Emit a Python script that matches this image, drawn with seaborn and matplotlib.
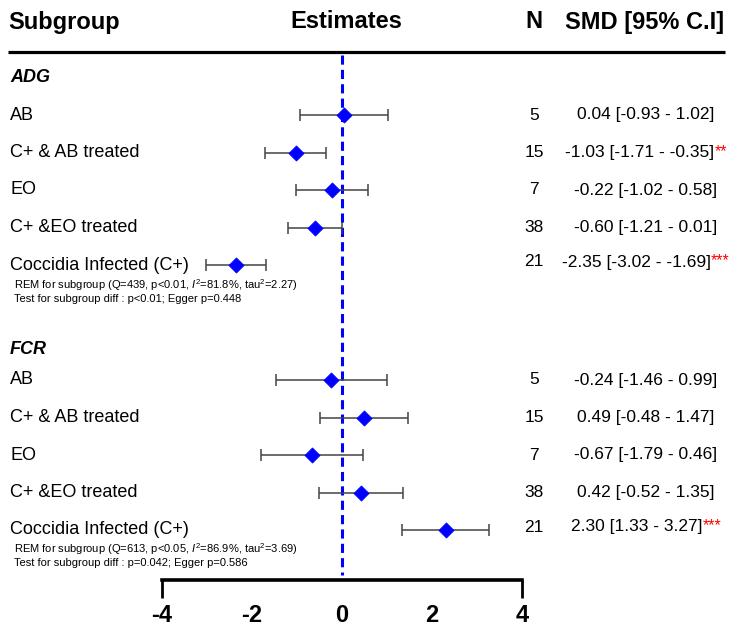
import matplotlib
matplotlib.use("Agg")
import matplotlib.pyplot as plt
import seaborn as sns
import pandas as pd
import numpy as np

# ---------------- data ----------------
groups = ["AB", "C+ & AB treated", "EO", "C+ &EO treated", "Coccidia Infected (C+)"]
n_studies = [5, 15, 7, 38, 21]

adg_smd = [0.04, -1.03, -0.22, -0.60, -2.35]
adg_lo = [-0.93, -1.71, -1.02, -1.21, -3.02]
adg_hi = [1.02, -0.35, 0.58, 0.01, -1.69]
adg_sig = ["", "**", "", "", "***"]

fcr_smd = [-0.24, 0.49, -0.67, 0.42, 2.30]
fcr_lo = [-1.46, -0.48, -1.79, -0.52, 1.33]
fcr_hi = [0.99, 1.47, 0.46, 1.35, 3.27]
fcr_sig = ["", "", "", "", "***"]

sections = ["ADG", "FCR"]
adg_notes = [r"REM for subgroup (Q=439, p<0.01, $\mathit{I}^2$=81.8%, tau$^2$=2.27)",
             "Test for subgroup diff : p<0.01; Egger p=0.448"]
fcr_notes = [r"REM for subgroup (Q=613, p<0.05, $\mathit{I}^2$=86.9%, tau$^2$=3.69)",
             "Test for subgroup diff : p=0.042; Egger p=0.586"]
headers = ["Subgroup", "Estimates", "N", "SMD [95% C.I]"]
xticks = [-4, -2, 0, 2, 4]

# ---------------- layout ----------------
W, H = 744, 637
sns.set_theme(style="white")
plt.rcParams["font.family"] = ["Liberation Sans", "DejaVu Sans"]
plt.rcParams["mathtext.fontset"] = "custom"
plt.rcParams["mathtext.rm"] = "Liberation Sans"
plt.rcParams["mathtext.it"] = "Liberation Sans:italic"
plt.rcParams["text.color"] = "black"
plt.rcParams["xtick.color"] = "black"
plt.rcParams["xtick.labelcolor"] = "black"

fig = plt.figure(figsize=(W / 100, H / 100), dpi=100)
fig.patch.set_facecolor("white")

# pixel axes for text
axp = fig.add_axes([0, 0, 1, 1])
axp.set_xlim(0, W)
axp.set_ylim(H, 0)
axp.axis("off")

# data axes: top at pixel 0, bottom spine at pixel 580
zero_px, ppu = 342, 45.0
bottom_px = 580
axd = fig.add_axes([0, (H - bottom_px) / H, 1, bottom_px / H])
axd.set_xlim(-zero_px / ppu, (W - zero_px) / ppu)
axd.set_ylim(bottom_px, 0)
axd.patch.set_alpha(0)

row_start = {"ADG": 115, "FCR": 380}
head_y = {"ADG": 77, "FCR": 349}
note_y = {"ADG": (285, 299), "FCR": (549, 563)}
spacing = 37.5

frames = []
for sec, smd, lo, hi, sig in [("ADG", adg_smd, adg_lo, adg_hi, adg_sig),
                              ("FCR", fcr_smd, fcr_lo, fcr_hi, fcr_sig)]:
    df = pd.DataFrame({"group": groups, "smd": smd, "lo": lo, "hi": hi,
                       "n": n_studies, "sig": sig})
    df["section"] = sec
    df["y"] = row_start[sec] + spacing * np.arange(len(df))
    frames.append(df)
data = pd.concat(frames, ignore_index=True)

# error bars
axd.errorbar(data["smd"], data["y"],
             xerr=[data["smd"] - data["lo"], data["hi"] - data["smd"]],
             fmt="none", ecolor="#444444", elinewidth=1.1, capsize=4.5,
             capthick=1.1, zorder=2)
sns.scatterplot(data=data, x="smd", y="y", marker="D", s=60, color="#0000ff",
                edgecolor="#0000ff", linewidth=0.5, ax=axd, zorder=3, legend=False)

# null line
axd.plot([0, 0], [55, 575], color="#0000ff", lw=2.2, dashes=(3, 1.7), zorder=1)

# x axis bracket
for s in ["top", "left", "right"]:
    axd.spines[s].set_visible(False)
axd.spines["bottom"].set_visible(True)
axd.spines["bottom"].set_color("black")
axd.spines["bottom"].set_linewidth(2.6)
axd.spines["bottom"].set_bounds(xticks[0], xticks[-1])
axd.spines["bottom"].set_capstyle("projecting")
axd.xaxis.remove_overlapping_locs = False
axd.set_xticks(xticks)
axd.set_xticklabels([str(t) for t in xticks], fontsize=17, fontweight="bold",
                    color="black")
axd.set_xticks([xticks[0], xticks[-1]], minor=True)
axd.tick_params(axis="x", which="major", length=0, pad=17, bottom=True)
axd.tick_params(axis="x", which="minor", length=13, width=2.0, direction="out",
                bottom=True, color="black")
axd.set_yticks([])
axd.set_xlabel("")
axd.set_ylabel("")
axd.grid(False)

# header
axp.text(8, 22, headers[0], fontsize=17, fontweight="bold", va="center", ha="left")
axp.text(346, 22, headers[1], fontsize=17, fontweight="bold", va="center", ha="center")
axp.text(534, 22, headers[2], fontsize=17, fontweight="bold", va="center", ha="center")
axp.text(645, 22, headers[3], fontsize=17, fontweight="bold", va="center", ha="center")
axp.plot([8, 725], [52, 52], color="black", lw=2.3, solid_capstyle="butt")

renderer = fig.canvas.get_renderer()
for sec, notes in [("ADG", adg_notes), ("FCR", fcr_notes)]:
    axp.text(10, head_y[sec], sec, fontsize=13, fontweight="bold", style="italic",
             va="center", ha="left")
    sub = data[data["section"] == sec]
    last = len(sub) - 1
    for i, (_, r) in enumerate(sub.iterrows()):
        axp.text(10, r["y"], r["group"], fontsize=13, va="center", ha="left")
        ty = r["y"] - (3 if i == last else 0)
        axp.text(534, ty, str(r["n"]), fontsize=12.5, va="center", ha="center")
        main = f"{r['smd']:.2f} [{r['lo']:.2f} - {r['hi']:.2f}]"
        tm = axp.text(0, ty, main, fontsize=12.5, va="center", ha="left")
        wm = tm.get_window_extent(renderer).width
        ws = 0
        ts = None
        if r["sig"]:
            ts = axp.text(0, ty - 1, r["sig"], fontsize=11.5, va="center", ha="left",
                          color="red")
            ws = ts.get_window_extent(renderer).width
        left = 646 - (wm + ws) / 2
        tm.set_x(left)
        if ts is not None:
            ts.set_x(left + wm)
    axp.text(14, note_y[sec][0], notes[0], fontsize=8.0, va="center", ha="left")
    axp.text(14, note_y[sec][1], notes[1], fontsize=8.0, va="center", ha="left")

fig.savefig("out.png", dpi=100, facecolor="white")
